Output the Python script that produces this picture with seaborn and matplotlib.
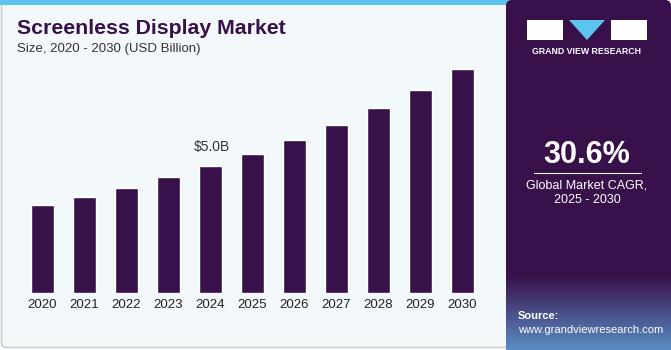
import numpy as np
import pandas as pd
import seaborn as sns
import matplotlib.pyplot as plt
from matplotlib.patches import FancyBboxPatch, Rectangle, Polygon

# data
years = ["2020", "2021", "2022", "2023", "2024", "2025", "2026", "2027", "2028", "2029", "2030"]
market_size = [3.45, 3.76, 4.12, 4.57, 5.0, 5.46, 6.03, 6.61, 7.30, 7.98, 8.80]
label_year = "2024"
label_text = "$5.0B"
cagr_text = "30.6%"

sns.set_theme(style="white")
plt.rcParams['font.family'] = ['Liberation Sans', 'DejaVu Sans']

bar_color = "#38104a"
panel_color = "#38104a"
bg_color = "#f3f8fb"

W, H = 671, 350
fig = plt.figure(figsize=(W / 100, H / 100), dpi=100)
fig.patch.set_facecolor("white")

# background layer in pixel coords
bg = fig.add_axes([0, 0, 1, 1])
bg.set_xlim(0, W)
bg.set_ylim(H, 0)
bg.axis("off")

bg.add_patch(FancyBboxPatch((1.5, 1.5), 515, 346, boxstyle="round,pad=0,rounding_size=5",
                            facecolor=bg_color, edgecolor="#c9cdd0", linewidth=1.2))
bg.add_patch(Rectangle((0, 0), 510, 5, facecolor="#5bc5ef", edgecolor="none"))

# right panel with a gradient at the bottom
bg.add_patch(FancyBboxPatch((506, 0), 165, 350, boxstyle="round,pad=0,rounding_size=6",
                            facecolor=panel_color, edgecolor="none"))
grad = np.linspace(0, 1, 100)[:, None]
top_c = np.array([0x38, 0x10, 0x4a]) / 255
bot_c = np.array([0x5a, 0x8c, 0xc4]) / 255
img = top_c[None, None, :] * (1 - grad[:, :, None]) + bot_c[None, None, :] * grad[:, :, None]
bg.imshow(img, extent=[506, 671, 350, 275], aspect="auto", zorder=1)
bg.set_xlim(0, W)
bg.set_ylim(H, 0)

# logo
bg.add_patch(Rectangle((527, 20), 36, 20, facecolor="white", edgecolor="none", zorder=2))
bg.add_patch(Rectangle((611, 20), 36, 20, facecolor="white", edgecolor="none", zorder=2))
bg.add_patch(Polygon([(569, 20), (605, 20), (587, 40)], closed=True, facecolor="#5bc5ef",
                     edgecolor="none", zorder=2))
bg.text(587, 51, "GRAND VIEW RESEARCH", color="white", fontsize=6.3, fontweight="bold",
        ha="center", va="center", zorder=3)

bg.text(587, 155, cagr_text, color="white", fontsize=22, fontweight="bold",
        ha="center", va="center", zorder=3)
bg.plot([534, 641], [173, 173], color="white", linewidth=0.8, zorder=3)
bg.text(587, 193, "Global Market CAGR,\n2025 - 2030", color="white", fontsize=9,
        ha="center", va="center", linespacing=1.25, zorder=3)
bg.text(518, 316, "Source:", color="white", fontsize=8, fontweight="bold",
        ha="left", va="center", zorder=3)
bg.text(518, 330, "www.grandviewresearch.com", color="white", fontsize=8,
        ha="left", va="center", zorder=3)

# titles
bg.text(17, 29, "Screenless Display Market", color="#38104a", fontsize=15.3,
        fontweight="bold", ha="left", va="center")
bg.text(17, 49, "Size, 2020 - 2030 (USD Billion)", color="#333333", fontsize=9.5,
        ha="left", va="center")

# bar chart
x0, x1 = 21.5, 483.5
y_base, y_top = 293, 39
ax = fig.add_axes([x0 / W, (H - y_base) / H, (x1 - x0) / W, (y_base - y_top) / H])
df = pd.DataFrame({"year": years, "size": market_size})
sns.barplot(data=df, x="year", y="size", color=bar_color, saturation=1, width=0.55, ax=ax)
ax.set_xlim(-0.5, 10.5)
ax.set_ylim(0, 10)
ax.patch.set_alpha(0)
for s in ax.spines.values():
    s.set_visible(False)
ax.set_yticks([])
ax.set_xlabel("")
ax.set_ylabel("")
ax.tick_params(axis="x", length=0, pad=4, labelsize=9.5, labelcolor="#222222")

i = years.index(label_year)
ax.annotate(label_text, (i, market_size[i]), xytext=(1, 9), textcoords="offset points",
            ha="center", va="bottom", fontsize=10, color="#333333")

fig.savefig("out.png", dpi=100)
